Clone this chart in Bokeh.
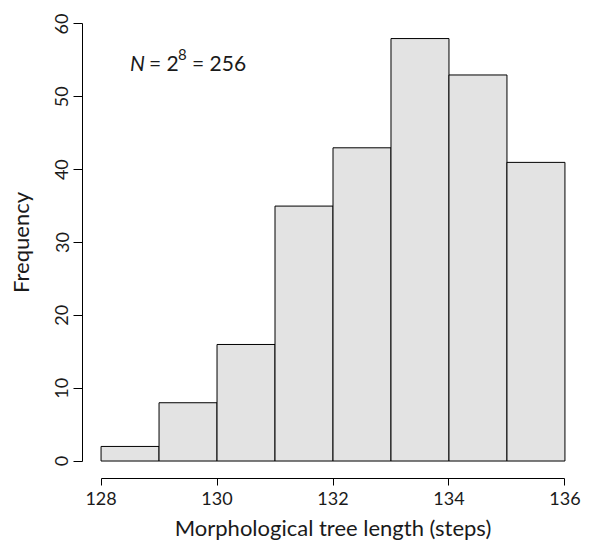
import numpy as np
from bokeh.plotting import figure
from bokeh.models import Range1d, FixedTicker, Label
from bokeh.embed import file_html
from bokeh.resources import INLINE

# Histogram data
bin_edges = [128, 129, 130, 131, 132, 133, 134, 135, 136]
counts = [2, 8, 16, 35, 43, 58, 53, 41]
x_ticks = [128, 130, 132, 134, 136]
y_ticks = [0, 10, 20, 30, 40, 50, 60]

FONT = "Lato"
TXT = "#1a1a1a"

p = figure(width=606, height=545, output_backend="svg", toolbar_location=None,
           x_range=Range1d(127.68, 136.32), y_range=Range1d(-2.4, 62.4),
           min_border_left=82, min_border_right=23, min_border_top=6, min_border_bottom=67)

p.quad(left=bin_edges[:-1], right=bin_edges[1:], bottom=0, top=counts,
       fill_color="#E3E3E3", line_color="black", line_width=1)

p.grid.visible = False
p.outline_line_color = None
p.background_fill_color = "white"
p.border_fill_color = "white"

xa = p.xaxis[0]
xa.bounds = (128, 136)
xa.ticker = FixedTicker(ticks=x_ticks)
xa.minor_tick_line_color = None
xa.major_tick_in = 0
xa.major_tick_out = 7
xa.axis_line_width = 1
xa.major_label_text_font = FONT
xa.major_label_text_font_size = "18px"
xa.major_label_text_color = TXT
xa.major_label_standoff = 6
xa.axis_label = "Morphological tree length (steps)"
xa.axis_label_text_font = FONT
xa.axis_label_text_font_style = "normal"
xa.axis_label_text_font_size = "22px"
xa.axis_label_text_color = TXT
xa.axis_label_standoff = 6

ya = p.yaxis[0]
ya.bounds = (0, 60)
ya.ticker = FixedTicker(ticks=y_ticks)
ya.minor_tick_line_color = None
ya.major_tick_in = 0
ya.major_tick_out = 9
ya.major_label_orientation = "vertical"
ya.major_label_text_font = FONT
ya.major_label_text_font_size = "18px"
ya.major_label_text_color = TXT
ya.major_label_standoff = 5
ya.axis_label = "Frequency"
ya.axis_label_text_font = FONT
ya.axis_label_text_font_style = "normal"
ya.axis_label_text_font_size = "22px"
ya.axis_label_text_color = TXT
ya.axis_label_standoff = 19

ann_x, ann_y = 128.5, 54.7
common = dict(x=ann_x, y=ann_y, text_font=FONT, text_color=TXT, text_baseline="alphabetic")
p.add_layout(Label(text="N", text_font_style="italic", text_font_size="21px", x_offset=0, **common))
p.add_layout(Label(text="= 2", text_font_size="21px", x_offset=19, **common))
p.add_layout(Label(text="8", text_font_size="15px", x_offset=48, y_offset=8, **common))
p.add_layout(Label(text="= 256", text_font_size="21px", x_offset=62, **common))

open("out.html", "w").write(file_html(p, INLINE))
